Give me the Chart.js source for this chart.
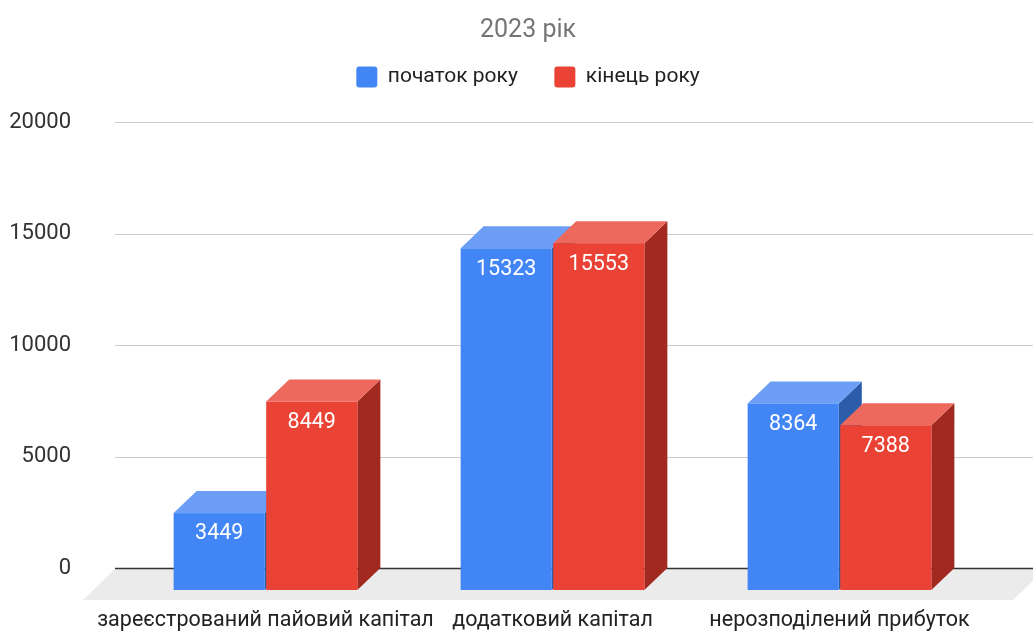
<!DOCTYPE html>
<html>
<head>
<meta charset="utf-8">
<script src="https://cdn.jsdelivr.net/npm/chart.js@4"></script>
<style>
  html, body { margin: 0; padding: 0; background: #ffffff; }
  #wrap { width: 1033px; height: 632px; position: relative; }
</style>
</head>
<body>
<div id="wrap"><canvas id="chart"></canvas></div>
<script>
// Balance-sheet equity items, thousands
const categories = ['зареєстрований пайовий капітал', 'додатковий капітал', 'нерозподілений прибуток'];
const seriesNames = ['початок року', 'кінець року'];
const startOfYear = [3449, 15323, 8364];
const endOfYear = [8449, 15553, 7388];
const yTicks = [0, 5000, 10000, 15000, 20000];

// face colours: front, top, side
const blueFaces = ['#4285f4', '#6c9ef6', '#2d5cab'];
const redFaces = ['#ea4335', '#ee695d', '#a2291f'];

// depth of the extruded columns (front face is shifted left/down from the grid plane)
const DX = 23, DY = 22;

const columns3d = {
  id: 'columns3d',
  afterLayout(chart) {
    // let the value labels use the space left of the axis box
    chart.scales.y.left = 0;
  },
  beforeDatasetsDraw(chart) {
    const { ctx, chartArea, scales } = chart;
    const y = scales.y;
    const y0 = y.getPixelForValue(0);
    const gridLeft = chartArea.left - 30;
    ctx.save();
    // floor
    ctx.fillStyle = '#ebebeb';
    ctx.beginPath();
    ctx.moveTo(gridLeft, y0 + 1);
    ctx.lineTo(chart.width + 12, y0 + 1);
    ctx.lineTo(chart.width - 20, y0 + 32);
    ctx.lineTo(gridLeft - 32, y0 + 32);
    ctx.closePath();
    ctx.fill();
    // grid lines
    yTicks.forEach(v => {
      const py = Math.round(y.getPixelForValue(v)) + 0.5;
      ctx.strokeStyle = v === 0 ? '#333333' : '#cccccc';
      ctx.lineWidth = v === 0 ? 1.5 : 1;
      ctx.beginPath();
      ctx.moveTo(gridLeft, py);
      ctx.lineTo(chart.width, py);
      ctx.stroke();
    });
    ctx.restore();
  },
  beforeDatasetDraw() {
    return false;
  },
  afterDatasetsDraw(chart) {
    const { ctx } = chart;
    const faces = [blueFaces, redFaces];
    const metas = [chart.getDatasetMeta(0), chart.getDatasetMeta(1)];
    const labels = [];
    ctx.save();
    categories.forEach((_, i) => {
      metas.forEach((meta, d) => {
        const bar = meta.data[i];
        const p = bar.getProps(['x', 'y', 'base', 'width'], true);
        const left = p.x - p.width / 2 - DX;
        const right = p.x + p.width / 2 - DX;
        const top = p.y + DY;
        const bottom = p.base + DY;
        const [front, topC, side] = faces[d];
        // side face
        ctx.fillStyle = side;
        ctx.beginPath();
        ctx.moveTo(right, top);
        ctx.lineTo(right + DX, top - DY);
        ctx.lineTo(right + DX, bottom - DY);
        ctx.lineTo(right, bottom);
        ctx.closePath();
        ctx.fill();
        // top face
        ctx.fillStyle = topC;
        ctx.beginPath();
        ctx.moveTo(left, top);
        ctx.lineTo(left + DX, top - DY);
        ctx.lineTo(right + DX, top - DY);
        ctx.lineTo(right, top);
        ctx.closePath();
        ctx.fill();
        // front face
        ctx.fillStyle = front;
        ctx.fillRect(left, top, right - left, bottom - top);
        labels.push({ x: (left + right) / 2, y: top + 21, text: String(chart.data.datasets[d].data[i]) });
      });
    });
    ctx.fillStyle = '#ffffff';
    ctx.font = '21.5px Roboto, sans-serif';
    ctx.textAlign = 'center';
    ctx.textBaseline = 'middle';
    labels.forEach(l => ctx.fillText(l.text, l.x, l.y));
    ctx.restore();
  }
};

Chart.defaults.font.family = 'Roboto, sans-serif';

new Chart(document.getElementById('chart'), {
  type: 'bar',
  data: {
    labels: categories,
    datasets: [
      { label: seriesNames[0], data: startOfYear, backgroundColor: blueFaces[0], yAxisID: 'y' },
      { label: seriesNames[1], data: endOfYear, backgroundColor: redFaces[0], yAxisID: 'y' }
    ]
  },
  options: {
    responsive: true,
    maintainAspectRatio: false,
    animation: false,
    categoryPercentage: 0.645,
    barPercentage: 0.985,
    layout: { padding: { left: 23, right: 0, top: 0, bottom: 0 } },
    plugins: {
      title: {
        display: true,
        text: '2023 рік',
        color: '#757575',
        font: { size: 25, weight: 'normal' },
        padding: { top: 16, bottom: -16 }
      },
      legend: {
        display: true,
        position: 'top',
        labels: {
          boxWidth: 21,
          boxHeight: 21,
          useBorderRadius: true,
          borderRadius: 3,
          padding: 36.5,
          color: '#222222',
          font: { size: 21 }
        }
      },
      tooltip: { enabled: false }
    },
    scales: {
      x: {
        grid: { display: false, drawTicks: false },
        border: { display: false },
        ticks: {
          color: '#222222',
          font: { size: 21.5 },
          padding: 40,
          labelOffset: -DX,
          maxRotation: 0,
          autoSkip: false
        },
        afterFit(scale) {
          scale.height = 64;
          scale.paddingLeft = 0;
          scale.paddingRight = 0;
        }
      },
      xTop: {
        type: 'linear',
        position: 'top',
        display: true,
        grid: { display: false, drawTicks: false },
        border: { display: false },
        ticks: { display: false },
        afterFit(scale) { scale.height = 24.5; }
      },
      y: {
        min: 0,
        max: 20000,
        grid: { display: false, drawTicks: false },
        border: { display: false },
        ticks: {
          stepSize: 5000,
          color: '#333333',
          font: { size: 22 },
          padding: 74,
          callback: v => String(v)
        },
        afterFit(scale) {
          scale.width = 122;
          scale.paddingTop = 0;
          scale.paddingBottom = 0;
        }
      },
      yRight: {
        position: 'right',
        display: true,
        grid: { display: false, drawTicks: false },
        border: { display: false },
        ticks: { display: false },
        afterFit(scale) { scale.width = 27; }
      }
    }
  },
  plugins: [columns3d]
});
</script>
</body>
</html>
